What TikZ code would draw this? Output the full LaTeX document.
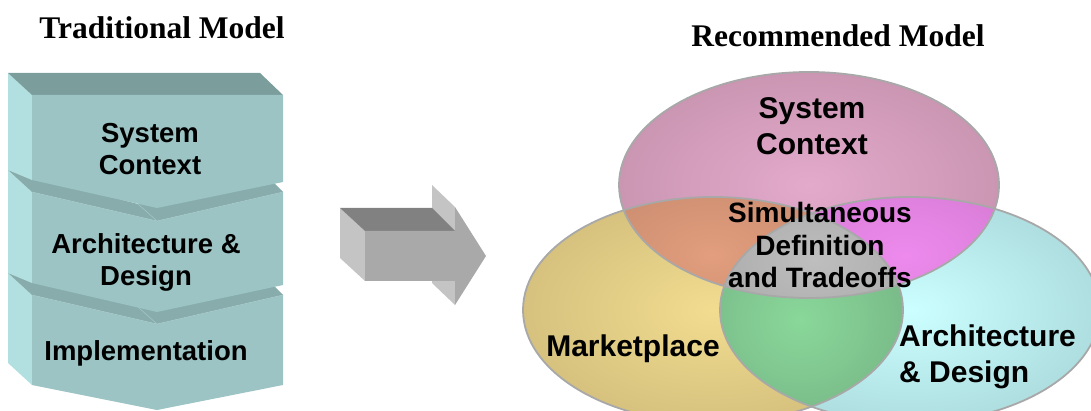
\documentclass[tikz,border=0pt]{standalone}
\usepackage{fontspec}
\setmainfont{Liberation Serif}
\setsansfont{Liberation Sans}

\definecolor{stackfront}{HTML}{9CC4C4}
\definecolor{stacktop}{HTML}{7B9D9C}
\definecolor{stackband}{HTML}{87ACAB}
\definecolor{stackside}{HTML}{B2E0E0}
\definecolor{stackcrease}{HTML}{A6CACA}
\definecolor{arrowfront}{HTML}{A9A9A9}
\definecolor{arrowtop}{HTML}{818181}
\definecolor{arrowside}{HTML}{C4C4C4}
\definecolor{ctxin}{HTML}{E4AACC}
\definecolor{ctxout}{HTML}{CA96B2}
\definecolor{mktin}{HTML}{F2DC90}
\definecolor{mktout}{HTML}{D6C27E}
\definecolor{arcin}{HTML}{CCFFFF}
\definecolor{arcout}{HTML}{AEDEE0}
\definecolor{ctxmktin}{HTML}{E29E7E}
\definecolor{ctxmktout}{HTML}{C88A6E}
\definecolor{ctxarcin}{HTML}{EE8AEE}
\definecolor{ctxarcout}{HTML}{D47AD2}
\definecolor{mktarcin}{HTML}{8AD89A}
\definecolor{mktarcout}{HTML}{76B686}
\definecolor{allin}{HTML}{BEBEBE}
\definecolor{allout}{HTML}{ABABAB}
\definecolor{vennline}{HTML}{A8A8A8}

\begin{document}
\begin{tikzpicture}[x=1pt,y=-1pt,
	heading/.style={font=\fontsize{31.5}{36}\selectfont\bfseries, anchor=base, inner sep=0pt},
	stacktext/.style={font=\fontsize{27.5}{32}\selectfont\sffamily\bfseries, align=center, inner sep=0pt},
	venntext/.style={font=\fontsize{30}{36}\selectfont\sffamily\bfseries, align=center, inner sep=0pt},
	midtext/.style={font=\fontsize{28}{32.5}\selectfont\sffamily\bfseries, align=center, inner sep=0pt},
	vennsize/.style={x radius=190pt, y radius=113pt},
	crease/.style={draw=stackcrease, line width=0.5pt}
]
\clip (0,0) rectangle (1091,411);

% traditional model
\node[heading] (trad) at (162,39) {Traditional Model};

% block 3
\fill[stackside] (8,273) -- (32,295) -- (32,385) -- (8,363) -- cycle;
\fill[stackfront] (32,295) -- (157,324) -- (283,295) -- (283,385) -- (157,410) -- (32,385) -- cycle;
\fill[stackband] (8,273) -- (32,295) -- (157,324) -- (283,295) -- (273,285) -- (138,307) -- cycle;
\draw[crease] (138,307) -- (157,324);
\draw[crease] (32,295) -- (157,324) -- (283,295);

% block 2
\fill[stackside] (8,170) -- (32,192) -- (32,283) -- (8,273) -- cycle;
\fill[stackfront] (32,192) -- (157,221) -- (283,192) -- (283,285) -- (157,312) -- (32,283) -- cycle;
\fill[stackband] (8,170) -- (32,192) -- (157,221) -- (283,192) -- (273,182) -- (138,204) -- cycle;
\draw[crease] (138,204) -- (157,221);
\draw[crease] (32,192) -- (157,221) -- (283,192);

% block 1
\fill[stackside] (8,73) -- (32,95) -- (32,180) -- (8,170) -- cycle;
\fill[stacktop] (8,73) -- (260,73) -- (283,95) -- (32,95) -- cycle;
\fill[stackfront] (32,95) -- (283,95) -- (283,182) -- (157,208) -- (32,180) -- cycle;

\node[stacktext] (sysctx) at (150,149) {System\\Context};
\node[stacktext] (archdes) at (146,262) {Architecture \&\\Design};
\node[stacktext] (impl) at (146,353) {Implementation};

% block arrow
\fill[arrowside] (432,185) -- (455,207) -- (455,305) -- (432,283) -- cycle;
\fill[arrowside] (340,208) -- (365,231) -- (365,281) -- (340,258) -- cycle;
\fill[arrowtop] (340,208) -- (432,208) -- (455,231) -- (365,231) -- cycle;
\fill[arrowfront] (365,231) -- (455,231) -- (455,207) -- (486,256) -- (455,305) -- (455,281) -- (365,281) -- cycle;

% recommended model
\node[heading] (recom) at (838,47) {Recommended Model};

\coordinate (ctx) at (809,185);
\coordinate (mkt) at (713,310);
\coordinate (arc) at (910,310);

\shade[inner color=ctxin, outer color=ctxout] (ctx) ellipse [vennsize];
\shade[inner color=mktin, outer color=mktout] (mkt) ellipse [vennsize];
\shade[inner color=arcin, outer color=arcout] (arc) ellipse [vennsize];

% overlaps
\begin{scope}
	\clip (ctx) ellipse [vennsize];
	\clip (mkt) ellipse [vennsize];
	\shade[inner color=ctxmktin, outer color=ctxmktout] (712,255) ellipse [x radius=150pt, y radius=95pt];
\end{scope}
\begin{scope}
	\clip (ctx) ellipse [vennsize];
	\clip (arc) ellipse [vennsize];
	\shade[inner color=ctxarcin, outer color=ctxarcout] (905,255) ellipse [x radius=150pt, y radius=95pt];
\end{scope}
\begin{scope}
	\clip (mkt) ellipse [vennsize];
	\clip (arc) ellipse [vennsize];
	\shade[inner color=mktarcin, outer color=mktarcout] (800,320) ellipse [x radius=125pt, y radius=115pt];
\end{scope}
\begin{scope}
	\clip (ctx) ellipse [vennsize];
	\clip (mkt) ellipse [vennsize];
	\clip (arc) ellipse [vennsize];
	\shade[inner color=allin, outer color=allout] (815,260) ellipse [x radius=115pt, y radius=75pt];
\end{scope}

\draw[vennline, line width=1.8pt] (ctx) ellipse [vennsize];
\draw[vennline, line width=1.8pt] (mkt) ellipse [vennsize];
\draw[vennline, line width=1.8pt] (arc) ellipse [vennsize];

\node[venntext] (ctxtext) at (812,126) {System\\Context};
\node[midtext] (simul) at (820,245) {Simultaneous\\Definition\\and Tradeoffs};
\node[venntext] (mkttext) at (633,349) {Marketplace};
\node[venntext, align=left, anchor=west] (arctext) at (899,357) {Architecture\\\& Design};
\end{tikzpicture}
\end{document}
